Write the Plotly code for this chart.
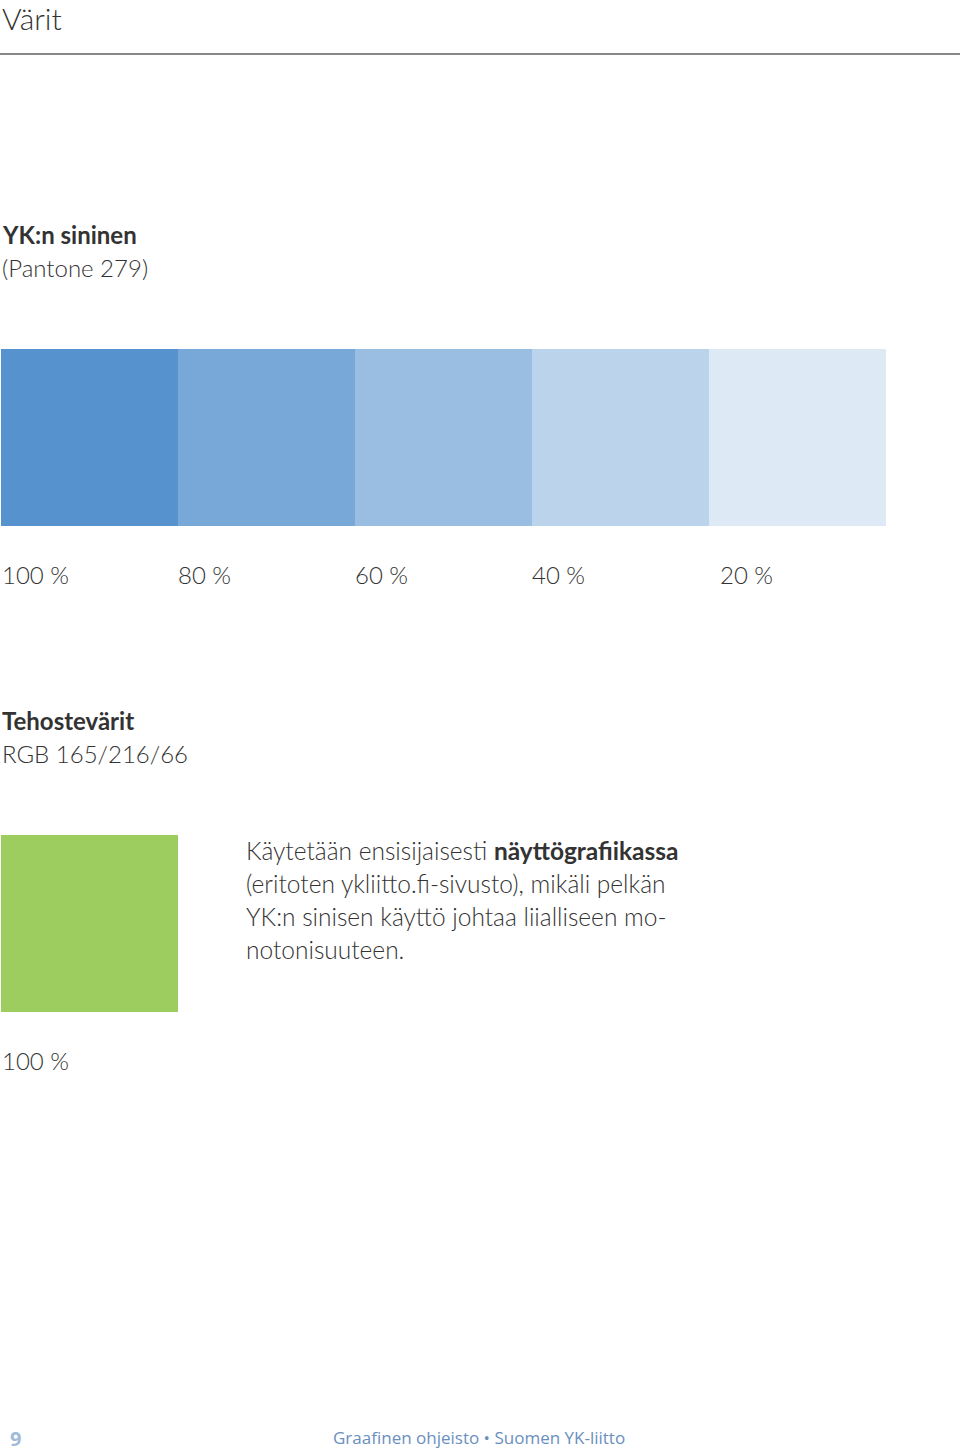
import plotly.graph_objects as go

# page coordinates: x 0..960 px, y 0..1455 px (top down)
W, H = 960, 1455

tints = ["100 %", "80 %", "60 %", "40 %", "20 %"]
blue_colors = ["#5592ce", "#77a8d8", "#99bee2", "#bbd3eb", "#dde9f5"]
accent_label = ["100 %"]
accent_colors = ["#9dcd5f"]

para_lines = [
    "Käytetään ensisijaisesti <b>näyttögrafiikassa</b>",
    "(eritoten ykliitto.fi-sivusto), mikäli pelkän",
    "YK:n sinisen käyttö johtaa liialliseen mo-",
    "notonisuuteen.",
]

SW = 177  # swatch size
FONT = "Lato"
DARK = "#333333"

fig = go.Figure()

# blue tints
fig.add_trace(go.Bar(
    x=[1 + SW / 2 + i * SW for i in range(len(tints))],
    y=[SW] * len(tints),
    base=349,
    width=SW,
    marker=dict(color=blue_colors, line=dict(width=0)),
    hoverinfo="skip",
))
# accent colour
fig.add_trace(go.Bar(
    x=[1 + SW / 2],
    y=[SW],
    base=835,
    width=SW,
    marker=dict(color=accent_colors, line=dict(width=0)),
    hoverinfo="skip",
))

ann = []

def txt(x, y, s, size=24, color=DARK, anchor="left", family=FONT, weight=300):
    ann.append(dict(x=x, y=y, xref="x", yref="y", text=s, showarrow=False,
                    xanchor=anchor, yanchor="middle",
                    font=dict(family=family, size=size, color=color, weight=weight)))

txt(0, 18, "Värit", size=30)
txt(0, 234, "<b>YK:n sininen</b>")
txt(0, 267, "(Pantone 279)")
label_x = [1, 178, 355, 532, 720]
for lx, t in zip(label_x, tints):
    txt(max(lx - 2, 0), 574, t)
txt(0, 720, "<b>Tehostevärit</b>")
txt(0, 753, "RGB 165/216/66")
for i, line in enumerate(para_lines):
    txt(244, 850 + i * 33, line, size=24.5)
txt(0, 1060, accent_label[0])
txt(8, 1438, "<b>9</b>", size=20, color="#9fbbd9", family="Open Sans", weight=400)
txt(479, 1437, "Graafinen ohjeisto • Suomen YK-liitto", size=17, color="#6a8fbf",
    anchor="center", family="Open Sans", weight=400)

fig.update_layout(
    width=W, height=H,
    margin=dict(l=0, r=0, t=0, b=0),
    paper_bgcolor="white", plot_bgcolor="white",
    showlegend=False, bargap=0, barmode="overlay",
    annotations=ann,
    shapes=[dict(type="line", xref="x", yref="y", x0=0, x1=W, y0=54, y1=54,
                 line=dict(color="#888888", width=2))],
    xaxis=dict(range=[0, W], visible=False, fixedrange=True),
    yaxis=dict(range=[H, 0], visible=False, fixedrange=True),
)

fig.write_html("out.html", config={"displayModeBar": False},
               post_script="document.body.style.margin='0';")
